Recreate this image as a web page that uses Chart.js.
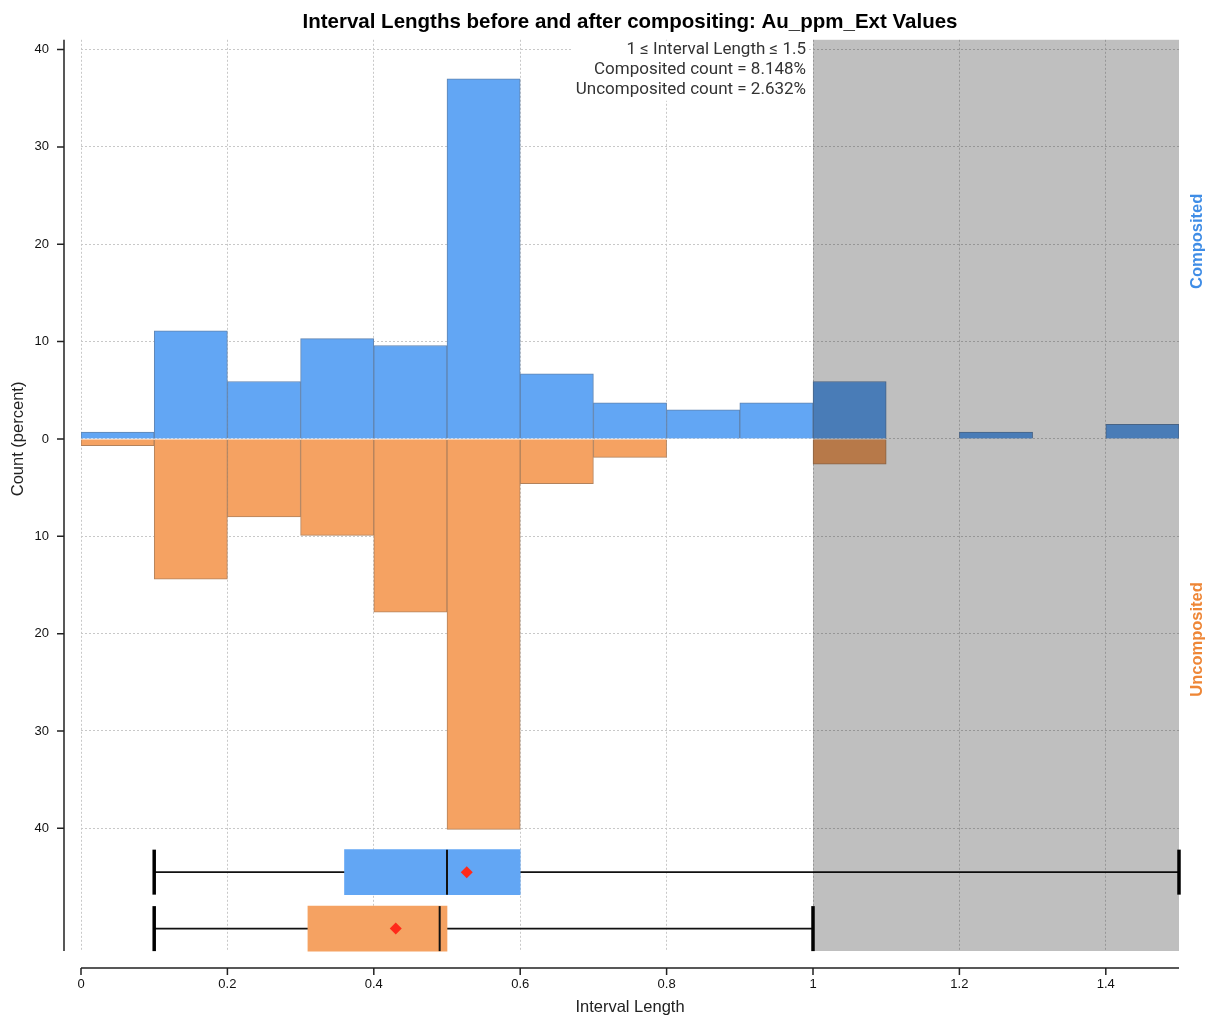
<!DOCTYPE html>
<html>
<head>
<meta charset="utf-8">
<script src="https://cdn.jsdelivr.net/npm/chart.js@4.4.1/dist/chart.umd.min.js"></script>
<style>
  html, body { margin: 0; padding: 0; background: #fff; }
  #wrap { width: 1212px; height: 1021px; position: relative; }
</style>
</head>
<body>
<div id="wrap"><canvas id="intervalChart"></canvas></div>
<script>
// histogram bins, width 0.1
const binCenters = [0.05, 0.15, 0.25, 0.35, 0.45, 0.55, 0.65, 0.75, 0.85, 0.95, 1.05, 1.15, 1.25, 1.35, 1.45];
const compositedPct = [0.7, 11.1, 5.9, 10.3, 9.6, 37.0, 6.7, 3.7, 3.0, 3.7, 5.9, 0, 0.7, 0, 1.5];
const uncompositedPct = [0.7, 14.4, 8.0, 9.9, 17.8, 40.1, 4.6, 1.9, 0, 0, 2.6, 0, 0, 0, 0];

// box plots: [whisker low, q1, median, q3, whisker high]
const compositedBox = [0.1, 0.36, 0.5, 0.6, 1.5];
const uncompositedBox = [0.1, 0.31, 0.49, 0.5, 1.0];
const compositedMean = 0.527;
const uncompositedMean = 0.43;

const xTicks = [0, 0.2, 0.4, 0.6, 0.8, 1, 1.2, 1.4];
const yTicks = [40, 30, 20, 10, 0, -10, -20, -30, -40];

const highlightRange = [1, 1.5];
const noteLines = ['1 \u2264 Interval Length \u2264 1.5', 'Composited count = 8.148%', 'Uncomposited count = 2.632%'];

const blue = '#62a6f4';
const orange = '#f5a262';
const font = '"Liberation Sans", Arial, sans-serif';

// rows of the two box plots, in y units below the histogram
const rowComp = -44.5;
const rowUnc = -50.3;

function boxParts(stats, mean, row, color) {
  return {
    whisker: [{x: stats[0], y: row}, {x: stats[4], y: row}],
    box: {x: [stats[1], stats[3]], y: row},
    caps: [{x: stats[0], y: row}, {x: stats[4], y: row}],
    median: [{x: stats[2], y: row}],
    mean: [{x: mean, y: row}],
    color: color
  };
}
const bc = boxParts(compositedBox, compositedMean, rowComp, blue);
const bu = boxParts(uncompositedBox, uncompositedMean, rowUnc, orange);

const decor = {
  id: 'decor',
  afterDatasetsDraw(chart) {
    const {ctx, chartArea, scales: {x}} = chart;
    const x0 = x.getPixelForValue(highlightRange[0]);
    const x1 = x.getPixelForValue(highlightRange[1]);
    ctx.save();
    ctx.fillStyle = 'rgba(0,0,0,0.25)';
    ctx.fillRect(x0, chartArea.top, x1 - x0, chartArea.bottom - chartArea.top);
    ctx.restore();
  },
  afterDraw(chart) {
    const {ctx, chartArea, scales: {x, y}} = chart;
    ctx.save();
    // offset axis lines with ticks
    const axX = chartArea.left - 17;
    const axY = chartArea.bottom + 17;
    ctx.strokeStyle = '#222';
    ctx.lineWidth = 1.5;
    ctx.beginPath();
    ctx.moveTo(axX, chartArea.top);
    ctx.lineTo(axX, chartArea.bottom);
    yTicks.forEach(v => {
      const p = y.getPixelForValue(v);
      ctx.moveTo(axX - 7, p);
      ctx.lineTo(axX, p);
    });
    ctx.moveTo(chartArea.left, axY);
    ctx.lineTo(chartArea.right, axY);
    xTicks.forEach(v => {
      const p = x.getPixelForValue(v);
      ctx.moveTo(p, axY);
      ctx.lineTo(p, axY + 7);
    });
    ctx.stroke();

    // axis titles
    ctx.fillStyle = '#222';
    ctx.font = '16.5px ' + font;
    ctx.textAlign = 'center';
    ctx.textBaseline = 'middle';
    ctx.fillText('Interval Length', (chartArea.left + chartArea.right) / 2, chartArea.bottom + 56);
    ctx.save();
    ctx.translate(18, y.getPixelForValue(0));
    ctx.rotate(-Math.PI / 2);
    ctx.fillText('Count (percent)', 0, 0);
    ctx.restore();

    // side labels
    ctx.font = 'bold 16.5px ' + font;
    [['Composited', 20.3, '#3f8de6'], ['Uncomposited', -20.6, '#ee8636']].forEach(l => {
      ctx.save();
      ctx.translate(chartArea.right + 18, y.getPixelForValue(l[1]));
      ctx.rotate(-Math.PI / 2);
      ctx.fillStyle = l[2];
      ctx.fillText(l[0], 0, 0);
      ctx.restore();
    });

    // note box
    ctx.font = '17px Roboto, ' + font;
    const right = x.getPixelForValue(highlightRange[0]) - 7;
    let w = 0;
    noteLines.forEach(t => { w = Math.max(w, ctx.measureText(t).width); });
    ctx.fillStyle = '#fff';
    ctx.fillRect(right - w - 4, chartArea.top + 1, w + 6, 60);
    ctx.fillStyle = '#333';
    ctx.textAlign = 'right';
    noteLines.forEach((t, i) => {
      ctx.fillText(t, right, chartArea.top + 10 + i * 20);
    });
    ctx.restore();
  }
};

function boxDatasets(b) {
  return [
    {type: 'line', data: b.whisker, borderColor: '#111', borderWidth: 1.8, pointRadius: 0, order: 4, clip: false},
    {type: 'bar', indexAxis: 'y', xAxisID: 'x2', data: [b.box], backgroundColor: b.color, borderWidth: 0,
      barThickness: 45, grouped: false, order: 3, clip: false},
    {type: 'scatter', data: b.caps, pointStyle: 'line', rotation: 90, pointRadius: 22.5,
      borderColor: '#000', borderWidth: 3.5, order: 2, clip: false},
    {type: 'scatter', data: b.median, pointStyle: 'line', rotation: 90, pointRadius: 22.5,
      borderColor: '#111', borderWidth: 2, order: 2, clip: false},
    {type: 'scatter', data: b.mean, pointStyle: 'rectRot', pointRadius: 6,
      backgroundColor: '#ff2a1a', borderColor: '#ff2a1a', borderWidth: 0, order: 1, clip: false}
  ];
}

const gridDash = {display: false, dash: [2, 2]};

new Chart(document.getElementById('intervalChart'), {
  type: 'bar',
  data: {
    datasets: [
      {
        label: 'Composited',
        data: binCenters.map((c, i) => ({x: c, y: compositedPct[i]})),
        backgroundColor: blue,
        borderColor: 'rgb(96,132,176)',
        borderWidth: 1,
        grouped: false,
        barPercentage: 1,
        categoryPercentage: 1,
        order: 5
      },
      {
        label: 'Uncomposited',
        data: binCenters.map((c, i) => ({x: c, y: -uncompositedPct[i]})),
        backgroundColor: orange,
        borderColor: 'rgb(178,130,92)',
        borderWidth: 1,
        grouped: false,
        barPercentage: 1,
        categoryPercentage: 1,
        order: 5
      }
    ].concat(boxDatasets(bc), boxDatasets(bu))
  },
  options: {
    responsive: true,
    maintainAspectRatio: false,
    animation: false,
    events: [],
    layout: {padding: {left: 0, right: 33, top: 0, bottom: 0}},
    plugins: {
      legend: {display: false},
      tooltip: {enabled: false},
      title: {
        display: true,
        fullSize: false,
        text: 'Interval Lengths before and after compositing: Au_ppm_Ext Values',
        color: '#000',
        font: {family: font, size: 20.5, weight: 'bold'},
        padding: {top: 6, bottom: 5}
      }
    },
    scales: {
      x: {
        type: 'linear',
        min: 0,
        max: 1.5,
        offset: false,
        afterBuildTicks: s => { s.ticks = xTicks.map(v => ({value: v})); },
        afterFit: s => { s.height = 70; },
        ticks: {
          callback: v => String(v),
          color: '#111',
          font: {family: font, size: 13},
          padding: 26,
          maxRotation: 0,
          autoSkip: false
        },
        grid: {offset: false, color: '#c8c8c8', lineWidth: 1, drawTicks: false},
        border: gridDash
      },
      x2: {
        type: 'linear',
        min: 0,
        max: 1.5,
        offset: false,
        display: false,
        grid: {offset: false}
      },
      y: {
        type: 'linear',
        min: -52.6,
        max: 41,
        offset: false,
        afterBuildTicks: s => { s.ticks = yTicks.map(v => ({value: v})); },
        afterFit: s => { s.width = 81; },
        ticks: {
          callback: v => String(Math.abs(v)),
          color: '#111',
          font: {family: font, size: 13},
          padding: 32
        },
        grid: {offset: false, color: '#c8c8c8', lineWidth: 1, drawTicks: false},
        border: gridDash
      }
    }
  },
  plugins: [decor]
});
</script>
</body>
</html>
